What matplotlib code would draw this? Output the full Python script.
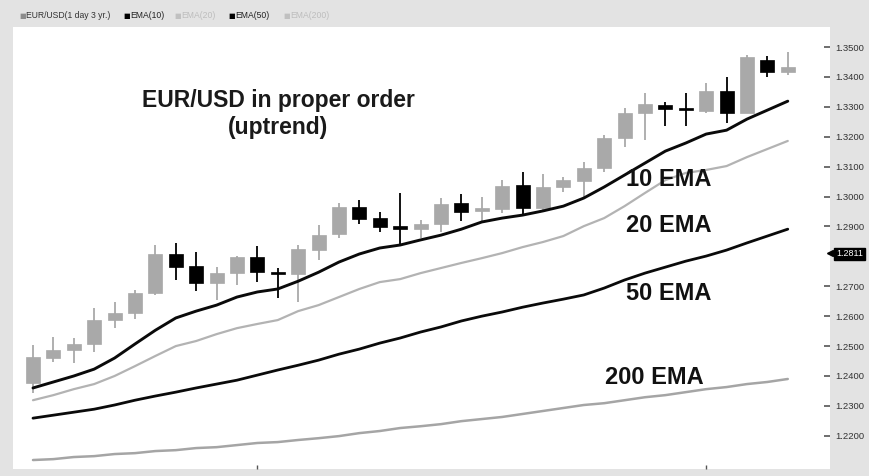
import matplotlib
matplotlib.use("Agg")
import matplotlib.pyplot as plt
import numpy as np

plt.rcParams['font.family'] = ['Liberation Sans', 'DejaVu Sans']

# ---- data ----
opens = [1.2376, 1.2460, 1.2487, 1.2507, 1.2587, 1.2610, 1.2677, 1.2808, 1.2768, 1.2711,
         1.2744, 1.2798, 1.2747, 1.2741, 1.2821, 1.2875, 1.2965, 1.2928, 1.2901, 1.2891,
         1.2908, 1.2978, 1.2952, 1.2958, 1.3038, 1.2962, 1.3032, 1.3052, 1.3095, 1.3196,
         1.3279, 1.3306, 1.3296, 1.3286, 1.3353, 1.3279, 1.3457, 1.3416]
highs = [1.2503, 1.2530, 1.2527, 1.2627, 1.2647, 1.2687, 1.2838, 1.2845, 1.2814, 1.2764,
         1.2800, 1.2834, 1.2761, 1.2838, 1.2905, 1.2978, 1.2988, 1.2948, 1.3012, 1.2921,
         1.2995, 1.3008, 1.2998, 1.3055, 1.3082, 1.3075, 1.3065, 1.3115, 1.3206, 1.3296,
         1.3346, 1.3316, 1.3346, 1.3380, 1.3400, 1.3473, 1.3470, 1.3483]
lows = [1.2343, 1.2447, 1.2443, 1.2480, 1.2560, 1.2590, 1.2671, 1.2721, 1.2684, 1.2654,
        1.2704, 1.2714, 1.2661, 1.2647, 1.2788, 1.2861, 1.2908, 1.2881, 1.2841, 1.2861,
        1.2881, 1.2918, 1.2915, 1.2945, 1.2942, 1.2948, 1.3015, 1.2998, 1.3082, 1.3166,
        1.3189, 1.3236, 1.3236, 1.3279, 1.3246, 1.3279, 1.3400, 1.3406]
closes = [1.2463, 1.2487, 1.2507, 1.2587, 1.2610, 1.2677, 1.2808, 1.2764, 1.2711, 1.2744,
          1.2798, 1.2747, 1.2741, 1.2824, 1.2871, 1.2965, 1.2925, 1.2898, 1.2891, 1.2908,
          1.2975, 1.2948, 1.2962, 1.3035, 1.2962, 1.3032, 1.3055, 1.3095, 1.3196, 1.3279,
          1.3309, 1.3293, 1.3289, 1.3353, 1.3279, 1.3467, 1.3416, 1.3433]

ema10 = [1.2360, 1.2380, 1.2400, 1.2423, 1.2460, 1.2507, 1.2553, 1.2594, 1.2617, 1.2637,
         1.2664, 1.2681, 1.2691, 1.2717, 1.2747, 1.2781, 1.2808, 1.2828, 1.2838, 1.2855,
         1.2871, 1.2891, 1.2915, 1.2928, 1.2938, 1.2952, 1.2968, 1.2995, 1.3032, 1.3072,
         1.3112, 1.3152, 1.3179, 1.3209, 1.3222, 1.3259, 1.3289, 1.3319]
ema20 = [1.2319, 1.2336, 1.2356, 1.2373, 1.2400, 1.2433, 1.2467, 1.2500, 1.2517, 1.2540,
         1.2560, 1.2574, 1.2587, 1.2617, 1.2637, 1.2664, 1.2691, 1.2714, 1.2724, 1.2744,
         1.2761, 1.2778, 1.2794, 1.2811, 1.2831, 1.2848, 1.2868, 1.2901, 1.2928, 1.2968,
         1.3012, 1.3055, 1.3079, 1.3089, 1.3102, 1.3132, 1.3159, 1.3186]
ema50 = [1.2259, 1.2269, 1.2279, 1.2289, 1.2303, 1.2319, 1.2333, 1.2346, 1.2360, 1.2373,
         1.2386, 1.2403, 1.2420, 1.2436, 1.2453, 1.2473, 1.2490, 1.2510, 1.2527, 1.2547,
         1.2564, 1.2584, 1.2600, 1.2614, 1.2630, 1.2644, 1.2657, 1.2671, 1.2694, 1.2721,
         1.2744, 1.2764, 1.2784, 1.2801, 1.2821, 1.2845, 1.2868, 1.2891]
ema200 = [1.2119, 1.2122, 1.2129, 1.2132, 1.2139, 1.2142, 1.2149, 1.2152, 1.2159, 1.2162,
          1.2169, 1.2176, 1.2179, 1.2186, 1.2192, 1.2199, 1.2209, 1.2216, 1.2226, 1.2232,
          1.2239, 1.2249, 1.2256, 1.2263, 1.2273, 1.2283, 1.2293, 1.2303, 1.2309, 1.2319,
          1.2329, 1.2336, 1.2346, 1.2356, 1.2363, 1.2373, 1.2380, 1.2390]

ytick_values = [1.22, 1.23, 1.24, 1.25, 1.26, 1.27, 1.29, 1.30, 1.31, 1.32, 1.33, 1.34, 1.35]
ytick_labels = ["%.4f" % v for v in ytick_values]
xtick_positions = [11, 33]
last_label = "1.2811"
last_value = 1.2811

title_text = "EUR/USD in proper order\n(uptrend)"
ema_labels = ["10 EMA", "20 EMA", "50 EMA", "200 EMA"]
legend_items = ["EUR/USD(1 day 3 yr.)", "EMA(10)", "EMA(20)", "EMA(50)", "EMA(200)"]

# ---- figure ----
W, H = 869, 476
fig = plt.figure(figsize=(W / 100, H / 100), dpi=100, facecolor="#e3e3e3")
ax = fig.add_axes([13 / W, 1 - 469 / H, (830 - 13) / W, (469 - 27) / H])
ax.set_facecolor("white")
for s in ax.spines.values():
    s.set_visible(False)

x = np.arange(len(opens))
o = np.array(opens); c = np.array(closes); h = np.array(highs); l = np.array(lows)
up = c >= o
gray = "#a9a9a9"
cols = np.where(up, gray, "#000000")

ax.vlines(x, l, h, colors=cols, linewidth=1.3, zorder=2)
body_lo = np.minimum(o, c)
body_h = np.maximum(np.abs(c - o), 0.0008)
ax.bar(x, body_h, bottom=body_lo, width=0.68, color=cols, edgecolor=cols, linewidth=0.5, zorder=2)

ax.plot(x, ema200, color="#a5a5a5", lw=1.8, zorder=3, solid_capstyle="round")
ax.plot(x, ema50, color="#0a0a0a", lw=2.0, zorder=3, solid_capstyle="round")
ax.plot(x, ema20, color="#b3b3b3", lw=1.6, zorder=3, solid_capstyle="round")
ax.plot(x, ema10, color="#0a0a0a", lw=2.1, zorder=3, solid_capstyle="round")

ax.set_xlim(-0.98, 39.07)
ax.set_ylim(1.2089, 1.3567)

ax.yaxis.tick_right()
ax.set_yticks(ytick_values)
ax.set_yticklabels(ytick_labels)
ax.tick_params(axis="y", direction="in", length=4, width=1.2, color="#555555",
               pad=4, labelsize=6.8, labelcolor="#333333")
ax.set_xticks(xtick_positions)
ax.set_xticklabels([])
ax.tick_params(axis="x", direction="in", length=3, width=1.0, color="#555555")

# title text inside chart
fig.text(278 / W, 1 - 114 / H, title_text, ha="center", va="center",
         fontsize=16.5, fontweight="bold", color="#1a1a1a", linespacing=1.2)

# EMA labels
label_pos = [(626, 180), (626, 226), (626, 294), (605, 378)]
for txt, (px, py) in zip(ema_labels, label_pos):
    fig.text(px / W, 1 - py / H, txt, ha="left", va="center",
             fontsize=17, fontweight="bold", color="#111111")

# last value box
fig.text(836 / W, 1 - 254 / H, last_label, ha="left", va="center", fontsize=6.5,
         color="white", bbox=dict(boxstyle="square,pad=0.2", fc="black", ec="black"))
ax.plot([1.0], [last_value], marker="<", color="black", markersize=4,
        transform=ax.get_yaxis_transform(), clip_on=False, zorder=5)

# legend at top
leg_sq_cols = ["#8c8c8c", "#000000", "#c0c0c0", "#000000", "#c0c0c0"]
leg_txt_cols = ["#333333", "#222222", "#bdbdbd", "#222222", "#bdbdbd"]
leg_x = [19, 123, 174, 228, 283]
for t, sc, tc, lx in zip(legend_items, leg_sq_cols, leg_txt_cols, leg_x):
    fig.text(lx / W, 1 - 16 / H, "\u25A0", ha="left", va="center", fontsize=5,
             color=sc, family=["DejaVu Sans"])
    fig.text((lx + 7) / W, 1 - 16 / H, t, ha="left", va="center", fontsize=6.2, color=tc)

fig.savefig("out.png", dpi=100, facecolor=fig.get_facecolor())
